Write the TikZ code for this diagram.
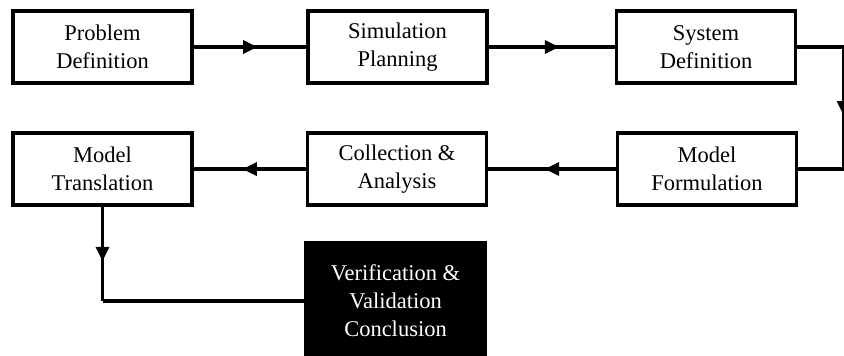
\documentclass[tikz,border=0pt]{standalone}
\usepackage{fontspec}
\setmainfont{Liberation Serif}
\usetikzlibrary{decorations.markings}
\tikzset{
  box/.style={draw=black, line width=3.4pt, rectangle, minimum width=179pt, minimum height=72pt,
    align=center, inner sep=0pt, font=\fontsize{22.5}{28}\selectfont},
  darkbox/.style={box, fill=black, text=white, minimum height=116pt},
  conn/.style={line width=3.4pt},
  midarrow/.style={postaction={decorate}, decoration={markings,
    mark=at position 0.5 with {\fill (7pt,0pt) -- (-7pt,7pt) -- (-7pt,-7pt) -- cycle;}}}
}
\begin{document}
\begin{tikzpicture}[x=1pt,y=-1pt]
\useasboundingbox (0,0) rectangle (844,356);
\clip (0,0) rectangle (844,356);
\node[box] (pd) at (102.5,47) {Problem\\Definition};
\node[box] (sp) at (397.5,47) {Simulation\\Planning};
\node[box] (sd) at (706,47) {System\\Definition};
\node[box] (mt) at (102.5,169) {Model\\Translation};
\node[box] (ca) at (397,169) {Collection \&\\Analysis};
\node[box] (mf) at (707,169) {Model\\Formulation};
\node[darkbox] (vv) at (395.5,301) {Verification \&\\Validation\\Conclusion};
\coordinate (r1) at (843.5,47);
\coordinate (r2) at (843.5,169);
\coordinate (c1) at (mt.south |- vv.west);
\draw[conn, midarrow] (pd.east) -- (sp.west);
\draw[conn, midarrow] (sp.east) -- (sd.west);
\draw[conn] (sd.east) -- (r1);
\draw[conn, midarrow] (r1) -- (r2);
\draw[conn] (r2) -- (mf.east);
\draw[conn, midarrow] (mf.west) -- (ca.east);
\draw[conn, midarrow] (ca.west) -- (mt.east);
\draw[conn, midarrow] (mt.south) -- (c1);
\draw[conn] (c1) -- (vv.west);
\end{tikzpicture}
\end{document}
